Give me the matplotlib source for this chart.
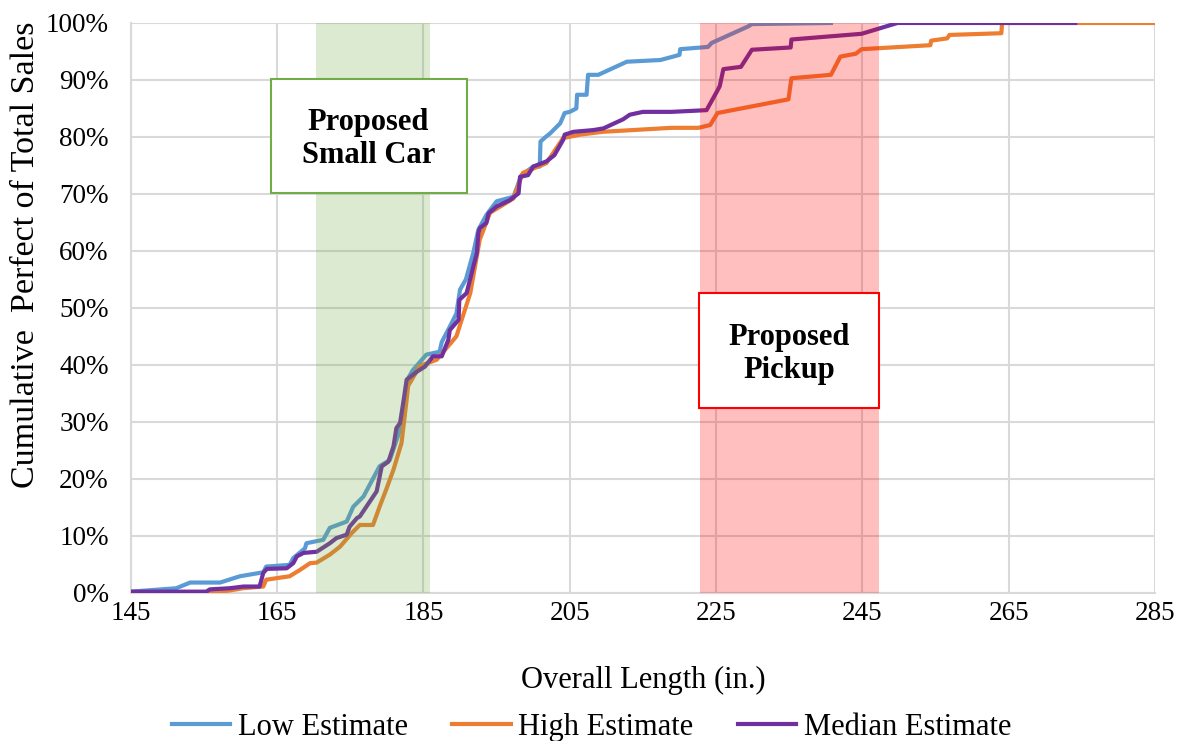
import matplotlib
matplotlib.use('Agg')
import matplotlib.pyplot as plt
from matplotlib.patches import Rectangle
from matplotlib.ticker import PercentFormatter

plt.rcParams['font.family'] = ['Liberation Serif', 'DejaVu Serif']

# Low Estimate (blue)
low_x = [145, 151.2, 153.1, 157.2, 159.9, 163.1, 163.5, 166.7, 167.2, 168.8, 169.0, 171.3,
         172.2, 174.5, 175.4, 176.8, 179.0, 180.4, 181.8, 182.5, 182.8, 183.5, 185.4, 187.2,
         187.5, 188.6, 189.5, 190.0, 190.8, 191.8, 192.5, 193.6, 195.0, 197.3, 198.4, 200.0,
         200.9, 201.0, 201.8, 202.3, 203.7, 204.3, 205.0, 205.9, 206.0, 207.3, 207.5, 208.9,
         212.8, 217.4, 220.0, 220.1, 223.9, 224.4, 229.4, 229.9, 240.7]
low_y = [0.2, 0.8, 1.8, 1.8, 2.9, 3.6, 4.6, 4.9, 6.1, 7.8, 8.7, 9.3,
         11.4, 12.5, 15.1, 16.9, 22.2, 23.3, 28.6, 33.9, 37.4, 39.0, 41.8, 42.3,
         44.0, 46.7, 49.0, 53.2, 55.0, 59.6, 63.7, 66.3, 68.7, 69.5, 73.3, 74.8,
         74.8, 79.2, 80.1, 80.6, 82.4, 84.2, 84.4, 85.0, 87.4, 87.4, 90.9, 90.9,
         93.2, 93.5, 94.4, 95.4, 95.8, 96.5, 99.4, 99.8, 100]

# High Estimate (orange)
high_x = [145, 155.3, 158.5, 160.3, 163.1, 163.5, 166.7, 168.1, 169.5, 170.4, 172.2, 173.6,
          175.2, 176.3, 178.1, 179.0, 179.9, 180.9, 182.0, 182.7, 182.9, 184.5, 186.8, 189.5,
          191.4, 192.7, 194.1, 197.3, 198.6, 201.8, 204.1, 206.4, 209.5, 218.9, 222.6, 224.2,
          225.2, 234.9, 235.3, 240.7, 242.0, 244.1, 244.9, 254.3, 254.4, 256.6, 256.9, 264.0,
          264.1, 285]
high_y = [0, 0, 0.4, 0.8, 1.1, 2.3, 2.9, 4.0, 5.2, 5.3, 6.7, 8.1,
          10.5, 11.9, 11.9, 15.1, 18.1, 21.6, 26.3, 33.9, 36.3, 39.8, 40.9, 45.0,
          52.6, 62.0, 66.7, 69.2, 73.7, 75.4, 79.8, 80.4, 80.9, 81.6, 81.6, 82.1,
          84.2, 86.6, 90.3, 90.9, 94.1, 94.6, 95.4, 96.1, 96.9, 97.3, 97.9, 98.2,
          100, 100]

# Median Estimate (purple)
med_x = [145, 155.3, 155.8, 158.5, 160.4, 162.6, 163.1, 163.6, 166.3, 167.2, 167.7, 168.6,
         170.4, 172.2, 173.1, 174.5, 174.9, 175.9, 176.3, 178.6, 179.3, 180.2, 180.9, 181.3,
         181.8, 182.3, 182.7, 184.1, 185.2, 186.3, 187.5, 188.4, 188.6, 189.8, 189.9, 190.9,
         191.8, 192.3, 192.5, 192.7, 193.6, 193.9, 195.0, 196.8, 198.0, 198.2, 199.3, 200.0,
         201.8, 202.9, 204.1, 204.3, 205.5, 208.2, 209.6, 212.3, 213.2, 215.0, 218.9, 223.7,
         225.0, 225.5, 226.0, 228.4, 229.9, 235.2, 235.3, 244.9, 249.8, 274.1]
med_y = [0.2, 0.2, 0.6, 0.8, 1.1, 1.1, 3.5, 4.2, 4.3, 5.2, 6.4, 7.0,
         7.2, 8.7, 9.6, 10.2, 11.6, 13.1, 13.4, 17.8, 22.2, 23.0, 25.7, 28.9,
         29.8, 33.9, 37.4, 38.8, 39.7, 41.5, 41.5, 44.4, 46.1, 47.9, 51.4, 52.6,
         57.2, 59.6, 63.1, 64.0, 64.9, 66.6, 67.8, 68.9, 70.1, 73.0, 73.3, 74.8,
         75.7, 76.8, 79.5, 80.4, 80.9, 81.2, 81.5, 83.1, 83.9, 84.4, 84.4, 84.7,
         87.7, 88.9, 91.9, 92.3, 95.3, 95.7, 97.1, 98.1, 100, 100]

x_ticks = [145, 165, 185, 205, 225, 245, 265, 285]
y_ticks = [0, 10, 20, 30, 40, 50, 60, 70, 80, 90, 100]

fig = plt.figure(figsize=(11.79, 7.41), dpi=100)
ax = fig.add_axes([0.111, 0.2, 0.8686, 0.769])

ax.plot(low_x, low_y, color='#5B9BD5', lw=3, label='Low Estimate', zorder=3)
ax.plot(high_x, high_y, color='#ED7D31', lw=3, label='High Estimate', zorder=3)
ax.plot(med_x, med_y, color='#7030A0', lw=3, label='Median Estimate', zorder=4)

# shaded regions over the lines
ax.axvspan(170.3, 185.9, color='#70AD47', alpha=0.25, lw=0, zorder=5)
ax.axvspan(222.8, 247.3, color='#FF0000', alpha=0.25, lw=0, zorder=5)

# text boxes
ax.add_patch(Rectangle((164.1, 70.2), 26.8, 20.0, facecolor='white',
                       edgecolor='#70AD47', lw=1.5, zorder=6))
ax.text(177.5, 79.6, 'Proposed\nSmall Car', ha='center', va='center',
        fontsize=22, fontweight='bold', linespacing=1.2, zorder=7)
ax.add_patch(Rectangle((222.6, 32.5), 24.7, 20.1, facecolor='white',
                       edgecolor='#FF0000', lw=1.5, zorder=6))
ax.text(234.95, 41.9, 'Proposed\nPickup', ha='center', va='center',
        fontsize=22, fontweight='bold', linespacing=1.2, zorder=7)

ax.set_xlim(145, 285)
ax.set_ylim(0, 100)
ax.set_xticks(x_ticks)
ax.set_yticks(y_ticks)
ax.yaxis.set_major_formatter(PercentFormatter(decimals=0))
ax.tick_params(length=0, labelsize=19.5)
ax.tick_params(axis='x', pad=6)
ax.tick_params(axis='y', pad=16)
ax.grid(True, color='#D9D9D9', lw=1.5, zorder=0)
ax.set_axisbelow(True)
for s in ['top', 'right']:
    ax.spines[s].set_visible(False)
for s in ['left', 'bottom']:
    ax.spines[s].set_color('#D9D9D9')
    ax.spines[s].set_linewidth(1.5)

ax.set_xlabel('Overall Length (in.)', fontsize=22, labelpad=29)
ax.set_ylabel('Cumulative  Perfect of Total Sales', fontsize=24.5)
ax.yaxis.set_label_coords(-0.088, 0.593)

ax.legend(loc='center', bbox_to_anchor=(0.45, -0.236), ncol=3, frameon=False,
          fontsize=22, handlelength=1.9, columnspacing=1.45, handletextpad=0.26)

fig.savefig('out.png', dpi=100)
